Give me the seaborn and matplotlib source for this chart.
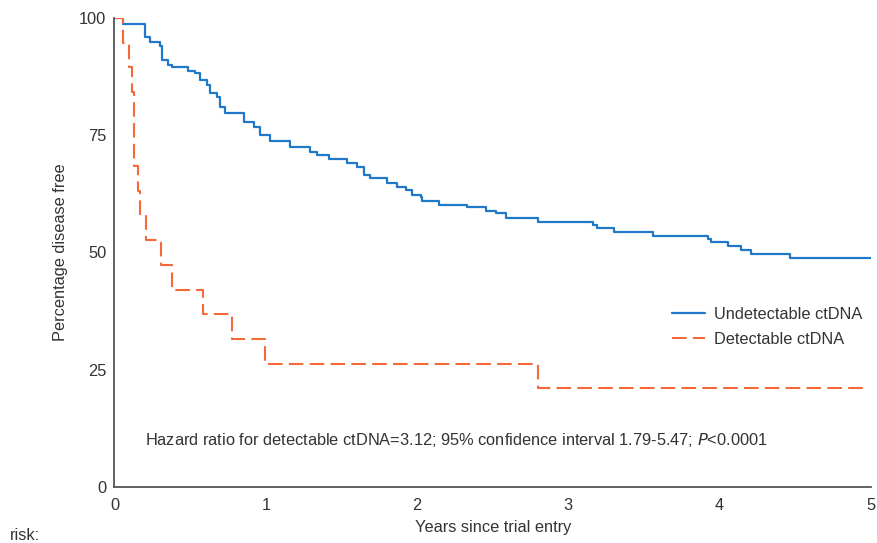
import matplotlib
matplotlib.use("Agg")
import matplotlib.pyplot as plt
import seaborn as sns
import pandas as pd

# Undetectable ctDNA (Kaplan-Meier)
times_u = [0, 0.058, 0.20, 0.235, 0.30, 0.313, 0.356, 0.379, 0.489, 0.533, 0.566,
           0.611, 0.633, 0.677, 0.699, 0.732, 0.853, 0.919, 0.964, 1.03, 1.162,
           1.295, 1.339, 1.42, 1.538, 1.604, 1.648, 1.692, 1.803, 1.869, 1.924,
           1.968, 2.023, 2.034, 2.144, 2.333, 2.454, 2.52, 2.586, 2.796, 3.16,
           3.19, 3.303, 3.558, 3.922, 3.94, 4.054, 4.142, 4.209, 4.462, 5.0]
surv_u = [100, 98.7, 96.0, 94.9, 94.0, 91.0, 90.0, 89.5, 88.6, 88.2, 86.8,
          85.7, 83.9, 83.1, 81.1, 79.7, 77.9, 76.8, 75.0, 73.8, 72.4,
          71.5, 70.8, 69.9, 69.0, 68.3, 66.5, 65.8, 64.8, 64.0, 63.3,
          62.3, 61.9, 61.0, 60.1, 59.6, 58.9, 58.4, 57.3, 56.6, 55.9,
          55.2, 54.4, 53.6, 52.9, 52.2, 51.4, 50.5, 49.6, 48.8, 48.8]

# Detectable ctDNA
times_d = [0, 0.058, 0.098, 0.118, 0.128, 0.157, 0.169, 0.209, 0.31, 0.383,
           0.588, 0.778, 0.997, 2.80, 4.98]
surv_d = [100, 94.7, 89.5, 84.2, 68.4, 63.2, 57.9, 52.6, 47.4, 42.1,
          36.8, 31.6, 26.3, 21.1, 21.1]

x_ticks = [0, 1, 2, 3, 4, 5]
y_ticks = [0, 25, 50, 75, 100]
labels = ["Undetectable ctDNA", "Detectable ctDNA"]

sns.set_theme(style="white")
plt.rcParams['font.family'] = ['Liberation Sans', 'DejaVu Sans']
text_col = "#333333"
fs = 11.8

df_u = pd.DataFrame({"t": times_u, "s": surv_u})
df_d = pd.DataFrame({"t": times_d, "s": surv_d})

fig = plt.figure(figsize=(8.78, 5.43), dpi=100)
ax = fig.add_axes([0.1304, 0.1031, 0.8616, 0.8638])

sns.lineplot(data=df_u, x="t", y="s", ax=ax, estimator=None, sort=False,
             drawstyle="steps-post", color="#1f78c8", linewidth=1.6,
             label=labels[0])
sns.lineplot(data=df_d, x="t", y="s", ax=ax, estimator=None, sort=False,
             drawstyle="steps-post", color="#f4683a", linewidth=1.5,
             dashes=False, label=labels[1])
ax.lines[1].set_dashes([7, 3])

ax.set_xlim(0, 5)
ax.set_ylim(0, 100)
ax.set_xticks(x_ticks)
ax.set_yticks(y_ticks)
ax.tick_params(axis="x", length=0, labelsize=fs, colors=text_col, pad=8)
ax.tick_params(axis="y", length=0, labelsize=fs, colors=text_col, pad=6)
for sp in ["top", "right"]:
    ax.spines[sp].set_visible(False)
for sp in ["left", "bottom"]:
    ax.spines[sp].set_color("#555555")
    ax.spines[sp].set_linewidth(1.3)
ax.set_xlabel("Years since trial entry", fontsize=fs, color=text_col, labelpad=5)
ax.set_ylabel("Percentage disease free", fontsize=fs, color=text_col, labelpad=8)

leg = ax.legend(loc="center left", bbox_to_anchor=(0.728, 0.341), frameon=False,
                fontsize=fs, handlelength=2.0, handletextpad=0.55,
                labelspacing=0.62, labelcolor=text_col, borderaxespad=0)
leg.get_lines()[1].set_dashes([7, 3])

ax.text(0.04, 0.100,
        r"Hazard ratio for detectable ctDNA=3.12; 95% confidence interval 1.79-5.47; $\it{P}$<0.0001",
        transform=ax.transAxes, fontsize=fs, color=text_col, va="center", ha="left")

fig.text(10 / 878, 1 - 535 / 543, "risk:", fontsize=fs, color=text_col,
         va="center", ha="left")

fig.savefig("out.png", dpi=100)
